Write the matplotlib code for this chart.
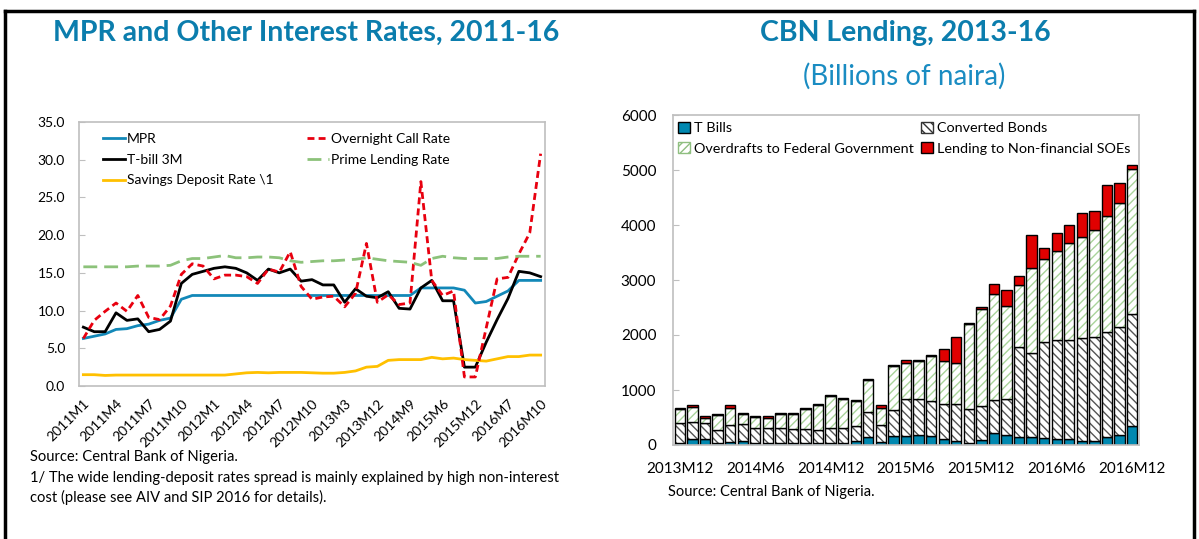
import numpy as np
import matplotlib.pyplot as plt
from matplotlib.patches import Patch
from matplotlib.lines import Line2D

plt.rcParams['font.family'] = ['Lato', 'DejaVu Sans']
plt.rcParams['hatch.linewidth'] = 1.0

# --- Left chart: interest rates (43 observations, labelled every 3rd) ---
rate_tick_labels = ["2011M1", "2011M4", "2011M7", "2011M10", "2012M1", "2012M4",
                    "2012M7", "2012M10", "2013M3", "2013M12", "2014M9", "2015M6",
                    "2015M12", "2016M7", "2016M10"]

mpr = [6.3, 6.6, 6.9, 7.5, 7.6, 8.0, 8.2, 8.7, 9.0, 11.5, 12.0, 12.0, 12.0, 12.0, 12.0,
       12.0, 12.0, 12.0, 12.0, 12.0, 12.0, 12.0, 12.0, 12.0, 12.0, 12.0, 12.0, 12.0, 12.0,
       12.0, 12.0, 13.0, 13.0, 13.0, 13.0, 12.7, 11.0, 11.2, 11.9, 12.6, 14.0, 14.0, 14.0]
overnight = [6.3, 8.7, 9.9, 11.0, 9.9, 12.0, 9.1, 8.8, 10.6, 14.8, 16.2, 15.9, 14.2, 14.7,
             14.7, 14.5, 13.6, 15.5, 15.1, 17.8, 13.2, 11.5, 11.8, 11.9, 10.5, 12.3, 18.9,
             11.1, 12.1, 10.8, 11.0, 27.1, 14.0, 12.0, 12.6, 1.2, 1.2, 7.7, 14.2, 14.4,
             17.5, 20.3, 30.8]
tbill = [7.8, 7.2, 7.2, 9.7, 8.7, 8.9, 7.2, 7.5, 8.6, 13.6, 14.8, 15.2, 15.6, 15.8, 15.6,
         15.0, 14.0, 15.5, 15.0, 15.5, 13.9, 14.1, 13.4, 13.4, 11.1, 12.9, 11.9, 11.7, 12.5,
         10.3, 10.2, 13.0, 14.0, 11.3, 11.3, 2.5, 2.5, 5.8, 8.8, 11.6, 15.2, 15.0, 14.5]
prime = [15.8, 15.8, 15.8, 15.8, 15.8, 15.9, 15.9, 15.9, 16.0, 16.6, 16.9, 16.9, 17.1, 17.3,
         17.0, 17.0, 17.1, 17.1, 17.0, 16.6, 16.4, 16.5, 16.6, 16.6, 16.7, 16.8, 17.0, 16.8,
         16.6, 16.5, 16.4, 16.0, 16.9, 17.2, 17.0, 16.9, 16.9, 16.9, 16.9, 17.1, 17.2, 17.2,
         17.2]
savings = [1.5, 1.5, 1.4, 1.45, 1.45, 1.45, 1.45, 1.45, 1.45, 1.45, 1.45, 1.45, 1.45, 1.45,
           1.6, 1.75, 1.8, 1.75, 1.8, 1.8, 1.8, 1.75, 1.7, 1.7, 1.8, 2.0, 2.5, 2.6, 3.4, 3.5,
           3.5, 3.5, 3.8, 3.6, 3.7, 3.5, 3.4, 3.3, 3.6, 3.9, 3.9, 4.1, 4.1]

# --- Right chart: CBN lending, 2013M12 - 2016M12 (billions of naira) ---
lending_months = [f"{y}M{m}" for y in range(2013, 2017) for m in range(1, 13)][11:]
t_bills = [42, 103, 103, 42, 55, 73, 30, 30, 30, 30, 30, 30, 30, 30, 79, 139, 55, 164, 164,
           182, 164, 103, 67, 42, 91, 212, 188, 152, 152, 127, 115, 115, 79, 79, 152, 188, 345]
conv_bonds = [364, 315, 291, 225, 303, 303, 285, 285, 285, 255, 255, 243, 273, 273, 266, 467,
              303, 466, 678, 660, 636, 636, 672, 619, 618, 606, 654, 1636, 1527, 1752, 1788,
              1800, 1872, 1884, 1908, 1963, 2031]
overdrafts = [242, 273, 103, 278, 321, 188, 194, 182, 243, 279, 363, 460, 588, 527, 461, 570,
              315, 806, 643, 679, 818, 788, 758, 1533, 1757, 1921, 1685, 1115, 1545, 1509, 1618,
              1751, 1830, 1940, 2103, 2243, 2636]
soe_lending = [25, 36, 30, 25, 42, 24, 24, 36, 24, 18, 19, 19, 24, 18, 18, 18, 48, 18, 66, 18,
               24, 212, 473, 30, 49, 194, 291, 175, 588, 193, 327, 327, 443, 351, 558, 375, 78]

W, H = 1199, 539
fig = plt.figure(figsize=(W / 100, H / 100), dpi=100)


def fx(x):
    return x / W


def fy(y):
    return 1 - y / H


title_color = "#0B7DAD"
spine_color = "#BFBFBF"

# outer frame
fig.add_artist(Line2D([fx(5), fx(5)], [0, fy(11)], color="black", lw=2.5))
fig.add_artist(Line2D([fx(5), fx(1194)], [fy(11), fy(11)], color="black", lw=2.5))
fig.add_artist(Line2D([fx(1194), fx(1194)], [0, fy(11)], color="black", lw=2.5))

# ---------------- left chart ----------------
ax1 = fig.add_axes([fx(79), fy(386), fx(545) - fx(79), fy(122) - fy(386)])
x = np.arange(len(mpr))
ax1.plot(x, mpr, color="#1288B8", lw=2, label="MPR")
ax1.plot(x, tbill, color="black", lw=2, label="T-bill 3M")
ax1.plot(x, savings, color="#FFC000", lw=2, label="Savings Deposit Rate \\1")
ax1.plot(x, overnight, color="#E8000F", lw=2, ls=(0, (2.5, 1.5)), label="Overnight Call Rate")
ax1.plot(x, prime, color="#8CC27A", lw=2, ls=(0, (5, 2.5)), label="Prime Lending Rate")

ax1.set_xlim(-0.4, len(mpr) - 0.6)
ax1.set_ylim(0, 35)
ax1.set_yticks(np.arange(0, 36, 5))
ax1.set_yticklabels([f"{v:.1f}" for v in np.arange(0, 36, 5)])
ax1.set_xticks(np.arange(0, len(mpr), 3))
ax1.set_xticklabels(rate_tick_labels, rotation=45, ha="right", rotation_mode="anchor")
ax1.tick_params(axis="x", length=0, pad=8, labelsize=10)
ax1.tick_params(axis="y", direction="in", length=4, color=spine_color, labelsize=10, pad=10)
for s in ax1.spines.values():
    s.set_color(spine_color)
    s.set_linewidth(1.2)
ax1.legend(ncol=2, loc="upper left", frameon=False, fontsize=10, handlelength=1.6,
           handletextpad=0.15, columnspacing=2.4, labelspacing=0.62,
           bbox_to_anchor=(0.024, 1.005))

fig.text(fx(306), fy(33), "MPR and Other Interest Rates, 2011-16", ha="center", va="center",
         fontsize=20.5, fontweight="bold", color=title_color)
fig.text(fx(30), fy(457), "Source: Central Bank of Nigeria.", fontsize=10.6, va="center")
fig.text(fx(30), fy(478),
         "1/ The wide lending-deposit rates spread is mainly explained by high non-interest",
         fontsize=10.6, va="center")
fig.text(fx(30), fy(497), "cost (please see AIV and SIP 2016 for details).", fontsize=10.6,
         va="center")

# ---------------- right chart ----------------
ax2 = fig.add_axes([fx(673), fy(445), fx(1139) - fx(673), fy(115) - fy(445)])
xb = np.arange(len(t_bills))
bw = 0.82
b1 = np.array(t_bills)
b2 = b1 + np.array(conv_bonds)
b3 = b2 + np.array(overdrafts)

ax2.bar(xb, t_bills, bw, color="#0088B0", edgecolor="black", lw=1)
ax2.bar(xb, conv_bonds, bw, bottom=b1, color="white", edgecolor="#555555", hatch="\\\\\\\\",
        lw=0)
ax2.bar(xb, conv_bonds, bw, bottom=b1, fill=False, edgecolor="black", lw=1)
ax2.bar(xb, overdrafts, bw, bottom=b2, color="white", edgecolor="#A9D49B", hatch="////",
        lw=0)
ax2.bar(xb, overdrafts, bw, bottom=b2, fill=False, edgecolor="black", lw=1)
ax2.bar(xb, soe_lending, bw, bottom=b3, color="#E00000", edgecolor="black", lw=1)

ax2.set_xlim(-0.55, len(t_bills) - 0.45)
ax2.set_ylim(0, 6000)
ax2.set_yticks(np.arange(0, 6001, 1000))
ax2.set_xticks(xb[::6])
ax2.set_xticklabels(lending_months[::6])
ax2.tick_params(axis="x", length=0, pad=12, labelsize=11)
ax2.tick_params(axis="y", direction="in", length=4, color=spine_color, labelsize=11, pad=12)
for s in ax2.spines.values():
    s.set_color(spine_color)
    s.set_linewidth(1.2)

handles = [
    Patch(facecolor="#0088B0", edgecolor="black", label="T Bills"),
    Patch(facecolor="white", edgecolor="#8FBF80", hatch="////",
          label="Overdrafts to Federal Government"),
    Patch(facecolor="white", edgecolor="#333333", hatch="\\\\\\\\", label="Converted Bonds"),
    Patch(facecolor="#E00000", edgecolor="black", label="Lending to Non-financial SOEs"),
]
ax2.legend(handles=handles, ncol=2, loc="upper left", frameon=False, fontsize=10.4,
           handlelength=0.8, handleheight=0.8, handletextpad=0.3, columnspacing=0.5,
           labelspacing=0.55, bbox_to_anchor=(-0.01, 1.01), borderaxespad=0.3)

fig.text(fx(905), fy(33), "CBN Lending, 2013-16", ha="center", va="center", fontsize=20.5,
         fontweight="bold", color=title_color)
fig.text(fx(904), fy(76), "(Billions of naira)", ha="center", va="center", fontsize=20,
         color="#1A8CC2")
fig.text(fx(668), fy(492), "Source: Central Bank of Nigeria.", fontsize=10.5, va="center")

fig.savefig("out.png", dpi=100)
